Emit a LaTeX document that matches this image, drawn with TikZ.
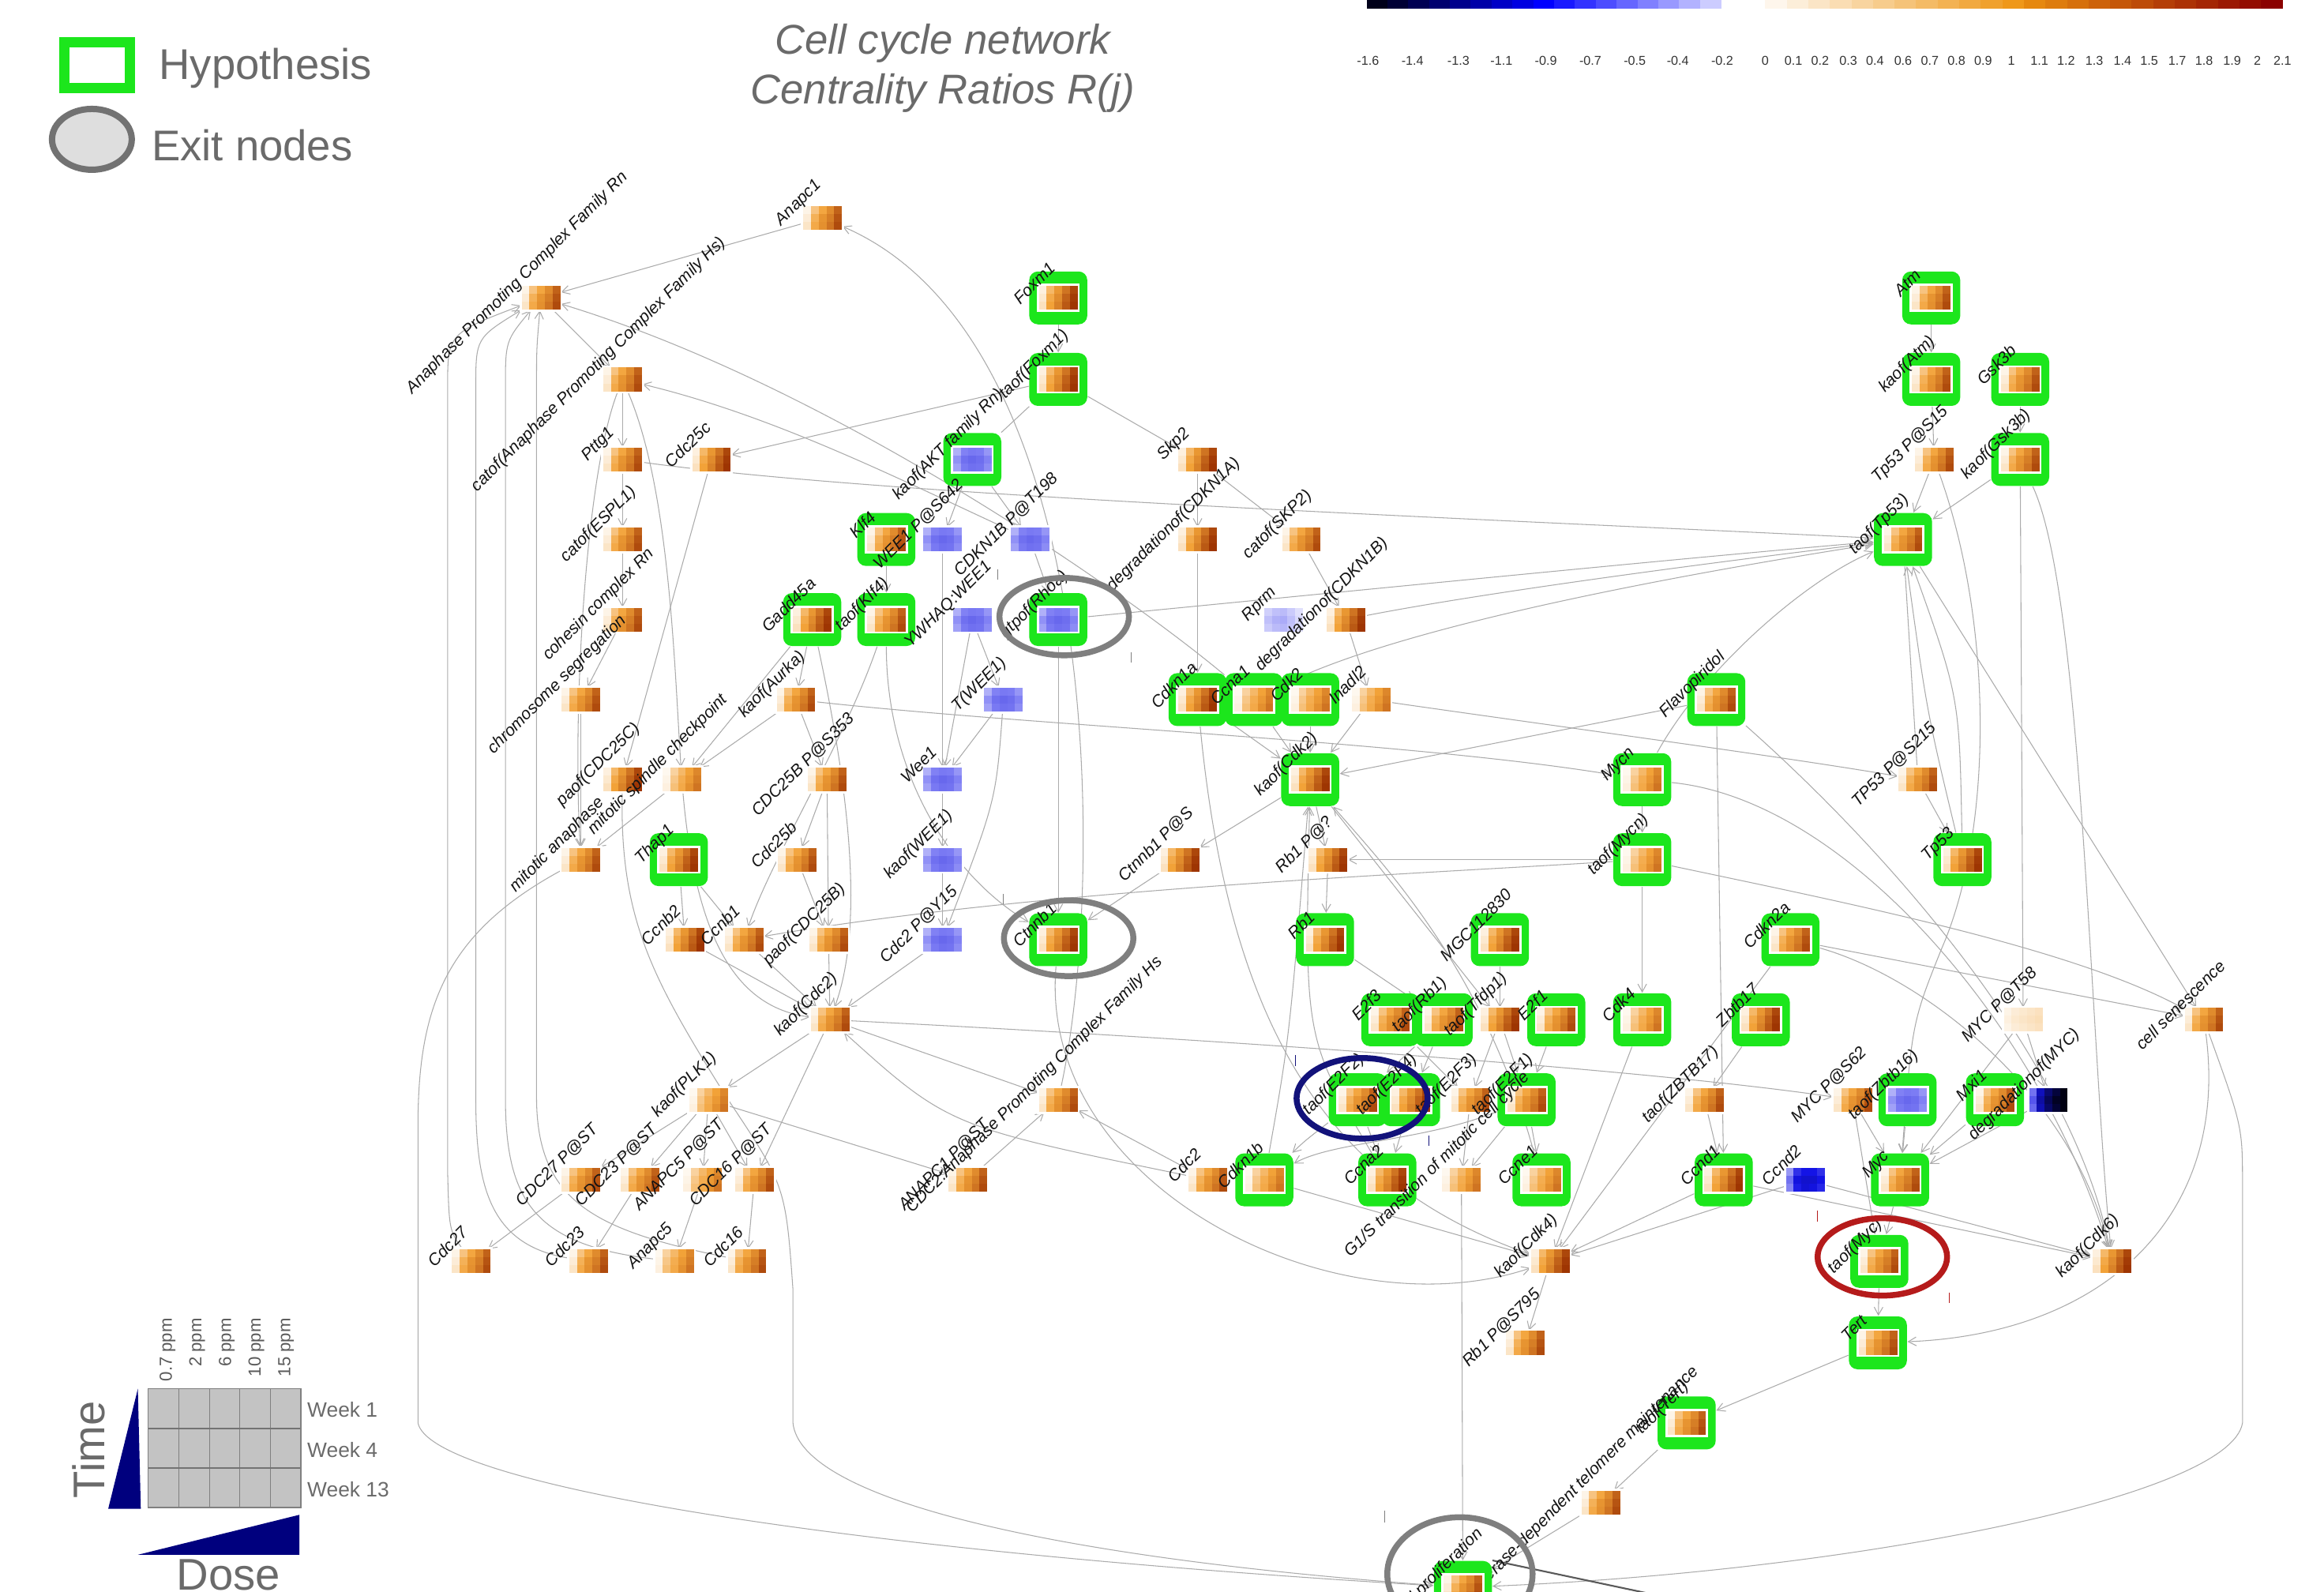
\documentclass[tikz,border=0pt]{standalone}
\usepackage{fontspec}
\setmainfont{Liberation Sans}
\usetikzlibrary{arrows.meta,shapes.geometric}

\definecolor{hypgreen}{RGB}{28,230,28}
\definecolor{om}{HTML}{F2A238}
\definecolor{oh}{HTML}{9A3000}
\definecolor{bm}{HTML}{7C7CF4}
\definecolor{bh}{HTML}{3434DA}
\definecolor{dm}{HTML}{1414E6}
\definecolor{dh}{HTML}{000012}
\definecolor{edgegray}{HTML}{ABABAB}
\definecolor{txtgray}{HTML}{6A6A6A}
\definecolor{exitgray}{HTML}{7F7F7F}
\definecolor{cbnavy}{HTML}{00001A}
\definecolor{cbor}{HTML}{EE9410}
\definecolor{cbred}{HTML}{8A0000}
\definecolor{navyring}{HTML}{12127A}
\definecolor{redring}{HTML}{B51B1B}
\definecolor{legnavy}{HTML}{00007E}
\definecolor{gridfill}{HTML}{C3C3C3}

\pgfdeclarelayer{bg}
\pgfsetlayers{bg,main}

\tikzset{
  pbox/.style={rectangle, minimum width=4.9mm, minimum height=3.0mm, inner sep=0pt},
  gbox/.style={rectangle, rounded corners=1.1mm, fill=hypgreen, minimum width=7.35mm, minimum height=6.7mm, inner sep=0pt},
  lbl/.style={rotate=45, font=\fontsize{6}{7}\selectfont\itshape, text=black!92, inner sep=0pt},
  ln/.style={draw=edgegray, line width=0.3pt, -{Straight Barb[length=1mm,width=1.1mm]}},
  lnn/.style={draw=edgegray, line width=0.3pt},
  cbl/.style={font=\fontsize{4.6}{5}\selectfont, text=black!80, inner sep=0pt},
}

% 3x5 heat tile: x, y, palette (o/b/d), list of 15 values 0..100
\newcommand\heatmap[4]{%
  \fill[white] (#1-14.5,#2-9.5) rectangle (#1+14.5,#2+9.5);
  \foreach \v [count=\k from 0] in #4 {%
    \pgfmathtruncatemacro\cc{mod(\k,5)}%
    \pgfmathtruncatemacro\rr{div(\k,5)}%
    \ifnum\v<51 \pgfmathtruncatemacro\pp{2*\v}\edef\col{#3m!\pp!white}%
    \else \pgfmathtruncatemacro\pp{2*(\v-50)}\edef\col{#3h!\pp!#3m}\fi
    \fill[fill=\col] (#1-13+\cc*5.2,#2-8+\rr*5.333) rectangle ++(5.25,5.38);
  }%
}
\newcommand\plainnode[6]{%
  \heatmap{#2}{#3}{#4}{#5}
  \node[pbox] (#1) at (#2,#3) {};
  \node[lbl] (#1-l) at (#2-16,#3-10) {#6};
}
\newcommand\hypnode[6]{%
  \node[gbox] (#1) at (#2,#3) {};
  \heatmap{#2}{#3}{#4}{#5}
  \node[lbl] (#1-l) at (#2-16,#3-10) {#6};
}

\def\pA{6,32,48,60,78, 10,42,56,66,84, 14,46,58,70,88}
\def\pB{8,38,55,70,90, 12,46,60,78,95, 16,50,64,82,98}
\def\pC{4,24,38,50,62, 6,30,44,54,66, 8,34,46,58,70}
\def\pBl{30,48,52,50,40, 42,58,64,60,48, 36,52,58,56,44}
\def\pLb{18,24,26,20,12, 24,30,32,24,14, 20,26,28,22,12}
\def\pDb{30,60,78,90,100, 36,66,84,96,100, 32,62,80,92,100}
\def\pCb{22,44,50,50,44, 30,52,56,56,50, 26,48,54,52,46}
\def\pMx{6,10,12,14,16, 8,12,14,16,18, 6,10,12,14,16}

\begin{document}
\begin{tikzpicture}[x=0.1877mm,y=-0.1877mm]
\useasboundingbox (0,0) rectangle (1568,1074);

% ---------- colour scale ----------
\foreach \i in {0,...,16}{
  \ifnum\i<9 \pgfmathtruncatemacro\pp{12.5*\i}\edef\col{blue!\pp!cbnavy}
  \else \pgfmathtruncatemacro\pp{100-(\i-8)*10}\edef\col{blue!\pp!white}\fi
  \fill[fill=\col] (922+\i*14.06,0) rectangle ++(14.3,6);
}
\foreach \j in {0,...,23}{
  \ifnum\j<12 \pgfmathtruncatemacro\pp{8+\j*8}\edef\col{cbor!\pp!white}
  \else \pgfmathtruncatemacro\pp{(\j-11)*8.3}\edef\col{cbred!\pp!cbor}\fi
  \fill[fill=\col] (1191+\j*14.54,0) rectangle ++(14.8,6);
}
\foreach \xx/\lab in {923/-1.6,953/-1.4,984/-1.3,1013/-1.1,1043/-0.9,1073/-0.7,1103/-0.5,1132/-0.4,1162/-0.2,1191/0,1210/0.1,1228/0.2,1247/0.3,1265/0.4,1284/0.6,1302/0.7,1320/0.8,1338/0.9,1357/1,1376/1.1,1394/1.2,1413/1.3,1432/1.4,1450/1.5,1469/1.7,1487/1.8,1506/1.9,1523/2,1540/2.1}
  \node[cbl] (cb\xx) at (\xx,41) {\lab};

% ---------- title and legend ----------
\node[font=\fontsize{15}{18}\selectfont\itshape, text=txtgray, align=center] (title) at (636,46) {Cell cycle network\\Centrality Ratios R(j)};
\node[draw=hypgreen, line width=1.3mm, minimum width=8.26mm, minimum height=5.8mm, inner sep=0pt] (leghyp) at (65.5,44) {};
\node[anchor=west, inner sep=0pt, font=\fontsize{15.5}{18}\selectfont, text=txtgray] (leghyptxt) at (107,46) {Hypothesis};
\node[ellipse, draw=exitgray!90!black, fill=black!13, line width=0.8mm, minimum width=10.1mm, minimum height=7.7mm, inner sep=0pt] (legexit) at (62,94) {};
\node[anchor=west, inner sep=0pt, font=\fontsize{15.5}{18}\selectfont, text=txtgray] (legexittxt) at (102,98) {Exit nodes};

% ---------- dose / time key ----------
\fill[gridfill] (100,937) rectangle (203,1017);
\foreach \cx in {120.6,141.2,161.8,182.4} \draw[black!50, line width=0.25pt] (\cx,937) -- (\cx,1017);
\foreach \ry in {963.7,990.3} \draw[black!55, line width=0.7pt] (100,\ry) -- (203,\ry);
\draw[black!50, line width=0.4pt] (100,937) rectangle (203,1017);
\foreach \cx/\lab [count=\n] in {113/0.7 ppm,133/2 ppm,153/6 ppm,173/10 ppm,193/15 ppm}
  \node[rotate=90, anchor=east, inner sep=0pt, font=\fontsize{6.3}{7}\selectfont, text=black!65] (ppm\n) at (\cx,889) {\lab};
\node[anchor=west, inner sep=0pt, font=\fontsize{7.5}{9}\selectfont, text=txtgray] (wk1) at (207,951) {Week 1};
\node[anchor=west, inner sep=0pt, font=\fontsize{7.5}{9}\selectfont, text=txtgray] (wk4) at (207,978) {Week 4};
\node[anchor=west, inner sep=0pt, font=\fontsize{7.5}{9}\selectfont, text=txtgray] (wk13) at (207,1005) {Week 13};
\fill[legnavy] (93,937) -- (95,1018) -- (73,1018) -- cycle;
\fill[legnavy] (93,1049) -- (202,1022) -- (202,1049) -- cycle;
\node[rotate=90, inner sep=0pt, font=\fontsize{16}{18}\selectfont, text=txtgray] (timelab) at (60,978) {Time};
\node[anchor=north, inner sep=0pt, font=\fontsize{16}{18}\selectfont, text=txtgray] (doselab) at (154,1052) {Dose};

% ---------- network nodes ----------
\plainnode{anapc1}{555}{147}{o}{\pA}{Anapc1}
\plainnode{apcrn}{365}{201}{o}{\pA}{Anaphase Promoting Complex Family Rn}
\plainnode{catapchs}{420}{256}{o}{\pA}{catof(Anaphase Promoting Complex Family Hs)}
\plainnode{pttg1}{420}{310}{o}{\pA}{Pttg1}
\plainnode{cdc25c}{480}{310}{o}{\pB}{Cdc25c}
\plainnode{catespl}{420}{364}{o}{\pA}{catof(ESPL1)}
\plainnode{cohesin}{420}{418}{o}{\pA}{cohesin complex Rn}
\plainnode{chromseg}{392}{472}{o}{\pA}{chromosome segregation}
\plainnode{paofc}{420}{526}{o}{\pB}{paof(CDC25C)}
\plainnode{msc}{460}{526}{o}{\pC}{mitotic spindle checkpoint}
\plainnode{manaph}{392}{580}{o}{\pA}{mitotic anaphase}
\hypnode{thap1}{458}{580}{o}{\pB}{Thap1}
\plainnode{ccnb2}{462}{634}{o}{\pB}{Ccnb2}
\plainnode{ccnb1}{502}{634}{o}{\pA}{Ccnb1}
\plainnode{kaofcdc2}{560}{688}{o}{\pA}{kaof(Cdc2)}
\plainnode{kaofplk1}{478}{742}{o}{\pC}{kaof(PLK1)}
\plainnode{cdc27p}{392}{796}{o}{\pA}{CDC27 P@ST}
\plainnode{cdc23p}{432}{796}{o}{\pA}{CDC23 P@ST}
\plainnode{anapc5p}{474}{796}{o}{\pC}{ANAPC5 P@ST}
\plainnode{cdc16p}{509}{796}{o}{\pA}{CDC16 P@ST}
\plainnode{anapc1p}{653}{796}{o}{\pA}{ANAPC1 P@ST}
\plainnode{cdc27}{318}{851}{o}{\pA}{Cdc27}
\plainnode{cdc23}{397}{851}{o}{\pA}{Cdc23}
\plainnode{anapc5}{455}{851}{o}{\pC}{Anapc5}
\plainnode{cdc16}{504}{851}{o}{\pA}{Cdc16}

\hypnode{foxm1}{714}{201}{o}{\pB}{Foxm1}
\hypnode{taoffoxm1}{714}{256}{o}{\pB}{taof(Foxm1)}
\hypnode{kaofakt}{656}{310}{b}{\pBl}{kaof(AKT family Rn)}
\hypnode{klf4}{598}{364}{o}{\pA}{Klf4}
\plainnode{wee1p}{636}{364}{b}{\pBl}{WEE1 P@S642}
\plainnode{cdkn1bp}{695}{364}{b}{\pBl}{CDKN1B P@T198}
\hypnode{gadd45a}{548}{418}{o}{\pB}{Gadd45a}
\hypnode{taofklf4}{598}{418}{o}{\pA}{taof(Klf4)}
\plainnode{ywhaq}{656}{418}{b}{\pBl}{YWHAQ:WEE1}
\hypnode{rhoa}{714}{418}{b}{\pBl}{gtpof(Rhoa)}
\plainnode{kaofaurka}{537}{472}{o}{\pA}{kaof(Aurka)}
\plainnode{twee1}{677}{472}{b}{\pBl}{T(WEE1)}
\plainnode{cdc25bp}{558}{526}{o}{\pA}{CDC25B P@S353}
\plainnode{wee1}{636}{526}{b}{\pBl}{Wee1}
\plainnode{cdc25b}{538}{580}{o}{\pA}{Cdc25b}
\plainnode{kaofwee1}{636}{580}{b}{\pBl}{kaof(WEE1)}
\plainnode{paofb}{559}{634}{o}{\pA}{paof(CDC25B)}
\plainnode{cdc2py}{636}{634}{b}{\pBl}{Cdc2 P@Y15}
\hypnode{ctnnb1}{714}{634}{o}{\pB}{Ctnnb1}
\plainnode{apchs}{714}{742}{o}{\pA}{CDC2:Anaphase Promoting Complex Family Hs}

\plainnode{skp2}{808}{310}{o}{\pB}{Skp2}
\plainnode{degcdkn1a}{808}{364}{o}{\pB}{degradationof(CDKN1A)}
\plainnode{catskp2}{878}{364}{o}{\pA}{catof(SKP2)}
\plainnode{rprm}{866}{418}{b}{\pLb}{Rprm}
\plainnode{degcdkn1b}{908}{418}{o}{\pB}{degradationof(CDKN1B)}
\hypnode{cdkn1a}{808}{472}{o}{\pB}{Cdkn1a}
\hypnode{ccna1}{846}{472}{o}{\pC}{Ccna1}
\hypnode{cdk2}{884}{472}{o}{\pC}{Cdk2}
\plainnode{inadl2}{925}{472}{o}{\pC}{Inadl2}
\hypnode{kaofcdk2}{884}{526}{o}{\pB}{kaof(Cdk2)}
\plainnode{ctnnb1p}{796}{580}{o}{\pB}{Ctnnb1 P@S}
\plainnode{rb1p}{896}{580}{o}{\pB}{Rb1 P@?}
\hypnode{rb1}{894}{634}{o}{\pB}{Rb1}
\hypnode{mgc}{1012}{634}{o}{\pB}{MGC112830}
\hypnode{e2f3}{938}{688}{o}{\pA}{E2f3}
\hypnode{taofrb1}{974}{688}{o}{\pA}{taof(Rb1)}
\plainnode{taoftfdp1}{1012}{688}{o}{\pB}{taof(Tfdp1)}
\hypnode{e2f1}{1050}{688}{o}{\pA}{E2f1}
\hypnode{taofe2f2}{916}{742}{o}{\pA}{taof(E2F2)}
\hypnode{taofe2f4}{952}{742}{o}{\pB}{taof(E2F4)}
\plainnode{taofe2f3}{992}{742}{o}{\pA}{taof(E2F3)}
\hypnode{taofe2f1}{1030}{742}{o}{\pA}{taof(E2F1)}
\plainnode{cdc2}{815}{796}{o}{\pA}{Cdc2}
\hypnode{cdkn1b}{853}{796}{o}{\pC}{Cdkn1b}
\hypnode{ccna2}{936}{796}{o}{\pB}{Ccna2}
\plainnode{g1s}{986}{796}{o}{\pC}{G1/S transition of mitotic cell cycle}
\hypnode{ccne1}{1040}{796}{o}{\pC}{Ccne1}
\plainnode{kaofcdk4}{1046}{851}{o}{\pB}{kaof(Cdk4)}
\plainnode{rb1p795}{1029}{906}{o}{\pA}{Rb1 P@S795}

\hypnode{atm}{1303}{201}{o}{\pA}{Atm}
\hypnode{kaofatm}{1303}{256}{o}{\pA}{kaof(Atm)}
\hypnode{gsk3b}{1363}{256}{o}{\pA}{Gsk3b}
\plainnode{tp53ps15}{1305}{310}{o}{\pA}{Tp53 P@S15}
\hypnode{kaofgsk3b}{1363}{310}{o}{\pA}{kaof(Gsk3b)}
\hypnode{taoftp53}{1284}{364}{o}{\pA}{taof(Tp53)}
\hypnode{flavo}{1158}{472}{o}{\pA}{Flavopiridol}
\hypnode{mycn}{1108}{526}{o}{\pC}{Mycn}
\plainnode{tp53ps215}{1294}{526}{o}{\pA}{TP53 P@S215}
\hypnode{taofmycn}{1108}{580}{o}{\pC}{taof(Mycn)}
\hypnode{tp53}{1324}{580}{o}{\pB}{Tp53}
\hypnode{cdkn2a}{1208}{634}{o}{\pA}{Cdkn2a}
\hypnode{cdk4}{1108}{688}{o}{\pC}{Cdk4}
\hypnode{zbtb17}{1188}{688}{o}{\pB}{Zbtb17}
\plainnode{mycpt58}{1365}{688}{o}{\pMx}{MYC P@T58}
\plainnode{cellsen}{1487}{688}{o}{\pA}{cell senescence}
\plainnode{taofzbtb17}{1150}{742}{o}{\pA}{taof(ZBTB17)}
\plainnode{mycps62}{1250}{742}{o}{\pA}{MYC P@S62}
\hypnode{taofzbtb16}{1287}{742}{b}{\pBl}{taof(Zbtb16)}
\hypnode{mxi1}{1346}{742}{o}{\pA}{Mxi1}
\plainnode{degmyc}{1382}{742}{d}{\pDb}{degradationof(MYC)}
\hypnode{ccnd1}{1163}{796}{o}{\pB}{Ccnd1}
\plainnode{ccnd2}{1218}{796}{d}{\pCb}{Ccnd2}
\hypnode{myc}{1282}{796}{o}{\pA}{Myc}
\hypnode{taofmyc}{1268}{851}{o}{\pA}{taof(Myc)}
\plainnode{kaofcdk6}{1425}{851}{o}{\pB}{kaof(Cdk6)}
\hypnode{tert}{1267}{906}{o}{\pA}{Tert}
\hypnode{telo}{1138}{960}{o}{\pA}{taof(Tert)}
\plainnode{telom}{1080}{1014}{o}{\pA}{telomerase-dependent telomere maintenance}
\hypnode{cellprol}{987}{1071}{o}{\pA}{cell proliferation}
\coordinate (offpage) at (1145,1082);

% ---------- exit rings and marks ----------
\draw[exitgray, line width=0.75mm] (718,416) ellipse [x radius=8.2mm, y radius=4.9mm];
\draw[exitgray, line width=0.75mm] (721,633) ellipse [x radius=8.2mm, y radius=4.8mm];
\draw[exitgray, line width=0.75mm] (985,1062) ellipse [x radius=9.2mm, y radius=7.2mm];
\draw[navyring, line width=0.75mm] (919,741) ellipse [x radius=8.3mm, y radius=5.1mm];
\draw[redring, line width=0.75mm] (1270,848) ellipse [x radius=8.2mm, y radius=4.9mm];
\draw[exitgray, line width=0.3pt] (673,384) -- (673,391) (763,440) -- (763,447) (677,603) -- (677,610) (934,1019) -- (934,1027);
\draw[navyring, line width=0.3pt] (874,712) -- (874,719) (964,766) -- (964,773);
\draw[redring, line width=0.3pt] (1226,817) -- (1226,824) (1315,872) -- (1315,879);

% ---------- connectors ----------
\begin{pgfonlayer}{bg}
\draw[ln] (anapc1) -- (apcrn);
\draw[ln] (apchs) .. controls (745,600) and (748,230) .. (anapc1);
\draw[ln] (ccna1) .. controls (760,400) and (560,260) .. (apcrn);
\draw[ln] (apcrn) -- (catapchs);
\draw[ln] (cdc27) .. controls (303,830) .. (302,790) -- (302,262) .. controls (302,225) .. (apcrn);
\draw[ln] (cdc23) .. controls (330,840) and (321,800) .. (321,740) -- (321,262) .. controls (321,228) .. (apcrn);
\draw[ln] (anapc5) .. controls (360,840) and (341,810) .. (341,740) -- (341,262) .. controls (341,230) .. (apcrn);
\draw[ln] (cdc16) .. controls (400,830) and (362,810) .. (362,740) -- (362,262) .. controls (362,235) .. (apcrn);
\draw[ln] (catapchs) -- (pttg1);
\draw[ln] (catapchs) .. controls (395,320) and (386,480) .. (manaph);
\draw[ln] (catapchs) .. controls (452,330) and (455,450) .. (msc);
\draw[ln] (cdkn1bp) .. controls (600,320) and (520,280) .. (catapchs);
\draw[ln] (pttg1) -- (catespl);
\draw[ln] (catespl) -- (cohesin);
\draw[ln] (cohesin) -- (chromseg);
\draw[ln] (chromseg) -- (manaph);
\draw[ln] (msc) -- (manaph);
\draw[ln] (kaofaurka) -- (msc);
\draw[ln] (gadd45a) -- (msc);
\draw[ln] (gadd45a) -- (kaofaurka);
\draw[ln] (cdc25c) -- (paofc);
\draw[ln] (pttg1) .. controls (600,335) and (1000,350) .. (taoftp53);
\draw[ln] (taoffoxm1) -- (cdc25c);
\draw[ln] (manaph) .. controls (300,630) and (282,680) .. (282,760) -- (282,960) .. controls (290,1000) and (550,1045) .. (cellprol);
\draw[ln] (paofc) .. controls (418,620) and (440,660) .. (490,740) .. controls (530,800) .. (535,870) -- (535,960) .. controls (540,1010) and (700,1050) .. (cellprol);

\draw[ln] (foxm1) -- (taoffoxm1);
\draw[ln] (taoffoxm1) -- (skp2);
\draw[lnn] (kaofakt) -- (taoffoxm1);
\draw[ln] (kaofakt) -- (wee1p);
\draw[ln] (kaofakt) -- (cdkn1bp);
\draw[ln] (klf4) -- (taofklf4);
\draw[ln] (wee1p) -- (wee1);
\draw[ln] (ywhaq) -- (wee1);
\draw[ln] (ywhaq) -- (twee1);
\draw[ln] (twee1) -- (wee1);
\draw[ln] (cdkn1bp) -- (rhoa);
\draw[ln] (wee1) -- (kaofwee1);
\draw[ln] (kaofwee1) -- (cdc2py);
\draw[ln] (twee1) .. controls (672,540) .. (cdc2py);
\draw[ln] (cdc2py) -- (kaofcdc2);
\draw[ln] (ccnb2) -- (kaofcdc2);
\draw[ln] (ccnb1) -- (kaofcdc2);
\draw[ln] (paofb) -- (kaofcdc2);
\draw[ln] (cdc25b) -- (paofb);
\draw[ln] (cdc25bp) -- (cdc25b);
\draw[ln] (cdc25bp) -- (paofb);
\draw[ln] (kaofaurka) -- (cdc25bp);
\draw[ln] (thap1) -- (ccnb2);
\draw[ln] (thap1) -- (ccnb1);
\draw[ln] (gadd45a) .. controls (570,520) and (585,620) .. (kaofcdc2);
\draw[ln] (taofklf4) .. controls (570,500) and (520,580) .. (ccnb1);
\draw[ln] (taofklf4) .. controls (598,520) and (640,590) .. (ctnnb1);
\draw[ln] (msc) .. controls (470,640) and (500,680) .. (kaofcdc2);
\draw[ln] (rhoa) -- (ctnnb1);

\draw[ln] (skp2) -- (degcdkn1a);
\draw[ln] (skp2) -- (catskp2);
\draw[ln] (catskp2) -- (degcdkn1b);
\draw[ln] (degcdkn1a) -- (cdkn1a);
\draw[ln] (degcdkn1b) -- (inadl2);
\draw[ln] (cdkn1a) -- (kaofcdk2);
\draw[ln] (ccna1) -- (kaofcdk2);
\draw[ln] (cdk2) -- (kaofcdk2);
\draw[ln] (inadl2) -- (kaofcdk2);
\draw[ln] (flavo) -- (kaofcdk2);
\draw[ln] (kaofcdk2) -- (ctnnb1p);
\draw[ln] (ctnnb1p) -- (ctnnb1);
\draw[ln] (kaofcdk2) -- (rb1p);
\draw[ln] (rb1p) -- (rb1);
\draw[ln] (taofmycn) -- (rb1p);
\draw[ln] (cdkn1b) .. controls (870,700) .. (kaofcdk2);
\draw[ln] (ccne1) .. controls (1000,650) and (930,580) .. (kaofcdk2);
\draw[ln] (ccna2) .. controls (880,700) .. (kaofcdk2);
\draw[ln] (kaofcdk2) -- (taoftfdp1);
\draw[ln] (cdkn1a) .. controls (830,700) and (900,800) .. (kaofcdk4);
\draw[ln] (rb1) -- (taofrb1);
\draw[ln] (mgc) -- (taoftfdp1);
\draw[ln] (e2f3) -- (taofe2f3);
\draw[ln] (e2f1) -- (taofe2f1);
\draw[ln] (taofrb1) -- (taofe2f2);
\draw[ln] (taofrb1) -- (taofe2f4);
\draw[ln] (taoftfdp1) -- (taofe2f3);
\draw[ln] (taoftfdp1) -- (taofe2f1);
\draw[ln] (taofe2f1) -- (ccne1);
\draw[ln] (taofe2f1) -- (g1s);
\draw[ln] (taofe2f3) -- (g1s);
\draw[ln] (taofe2f2) -- (ccna2);
\draw[ln] (taofe2f4) -- (ccna2);
\draw[ln] (taofe2f2) .. controls (880,770) .. (cdkn1b);
\draw[ln] (taofe2f1) .. controls (960,770) and (900,770) .. (cdkn1b);
\draw[ln] (cdc2) -- (apchs);
\draw[ln] (cdc2) .. controls (640,760) .. (kaofcdc2);
\draw[ln] (kaofcdc2) -- (apchs);
\draw[ln] (kaofcdc2) .. controls (800,700) and (1100,720) .. (mycps62);
\draw[ln] (kaofcdc2) -- (kaofplk1);
\draw[ln] (kaofcdc2) -- (cdc16p);
\draw[ln] (kaofplk1) -- (cdc27p);
\draw[ln] (kaofplk1) -- (cdc23p);
\draw[ln] (kaofplk1) -- (anapc5p);
\draw[ln] (kaofplk1) -- (cdc16p);
\draw[ln] (kaofplk1) -- (anapc1p);
\draw[ln] (anapc1p) -- (apchs);
\draw[ln] (cdc27p) -- (cdc27);
\draw[ln] (cdc23p) -- (cdc23);
\draw[ln] (anapc5p) -- (anapc5);
\draw[ln] (cdc16p) -- (cdc16);
\draw[ln] (ctnnb1) .. controls (700,800) and (900,900) .. (kaofcdk4);

\draw[ln] (atm) -- (kaofatm);
\draw[ln] (kaofatm) -- (tp53ps15);
\draw[ln] (gsk3b) -- (kaofgsk3b);
\draw[ln] (tp53ps15) -- (taoftp53);
\draw[ln] (kaofgsk3b) -- (taoftp53);
\draw[ln] (tp53) .. controls (1300,480) .. (taoftp53);
\draw[ln] (tp53) .. controls (1322,470) .. (taoftp53);
\draw[lnn] (taoftp53) -- (tp53ps215);
\draw[ln] (tp53ps215) -- (tp53);
\draw[ln] (taoftp53) -- (cellsen);
\draw[ln] (tp53ps15) .. controls (1345,420) and (1345,560) .. (1310,640) .. controls (1290,690) .. (myc);
\draw[ln] (kaofgsk3b) -- (mycpt58);
\draw[ln] (kaofgsk3b) .. controls (1405,400) and (1410,700) .. (kaofcdk6);
\draw[ln] (rhoa) .. controls (900,400) and (1150,375) .. (taoftp53);
\draw[ln] (degcdkn1b) .. controls (1000,400) and (1150,380) .. (taoftp53);
\draw[ln] (ccna1) .. controls (950,420) and (1150,385) .. (taoftp53);
\draw[ln] (mycn) .. controls (1150,450) and (1220,390) .. (taoftp53);
\draw[ln] (inadl2) .. controls (1050,490) and (1200,510) .. (tp53ps215);
\draw[ln] (kaofaurka) .. controls (700,490) and (950,500) .. (mycn);
\draw[ln] (mycn) -- (taofmycn);
\draw[ln] (taofmycn) -- (cdk4);
\draw[ln] (taofmycn) .. controls (950,590) and (700,600) .. (ccnb1);
\draw[ln] (taofmycn) .. controls (1250,610) and (1400,640) .. (cellsen);
\draw[ln] (mycn) .. controls (1250,540) and (1380,700) .. (kaofcdk6);
\draw[ln] (flavo) -- (ccnd1);
\draw[ln] (flavo) .. controls (1280,580) and (1400,720) .. (kaofcdk6);
\draw[ln] (cdkn2a) -- (kaofcdk4);
\draw[ln] (cdkn2a) .. controls (1300,660) and (1400,740) .. (kaofcdk6);
\draw[ln] (cdkn2a) -- (cellsen);
\draw[ln] (cdk4) -- (kaofcdk4);
\draw[ln] (ccnd1) -- (kaofcdk4);
\draw[ln] (ccnd2) -- (kaofcdk4);
\draw[ln] (cdkn1b) -- (kaofcdk4);
\draw[ln] (ccnd1) -- (kaofcdk6);
\draw[ln] (ccnd2) -- (kaofcdk6);
\draw[ln] (kaofcdk4) -- (rb1p795);
\draw[ln] (zbtb17) -- (taofzbtb17);
\draw[ln] (taofzbtb17) -- (ccnd1);
\draw[ln] (mycps62) -- (myc);
\draw[ln] (mycps62) -- (taofmyc);
\draw[ln] (taofzbtb16) -- (myc);
\draw[ln] (mxi1) -- (myc);
\draw[ln] (degmyc) -- (myc);
\draw[ln] (mycpt58) -- (myc);
\draw[ln] (mycpt58) -- (degmyc);
\draw[ln] (myc) -- (taofmyc);
\draw[ln] (taofmyc) -- (tert);
\draw[ln] (tert) -- (telo);
\draw[ln] (telo) -- (telom);
\draw[ln] (telom) -- (cellprol);
\draw[ln] (g1s) -- (cellprol);
\draw[ln] (cellsen) .. controls (1513,760) .. (1513,800) -- (1513,960) .. controls (1505,1010) and (1250,1060) .. (cellprol);
\draw[ln] (cellsen) .. controls (1505,820) and (1420,900) .. (tert);
\draw[black!65, line width=0.6pt] (cellprol.north east) -- (offpage);
\end{pgfonlayer}
\end{tikzpicture}
\end{document}
